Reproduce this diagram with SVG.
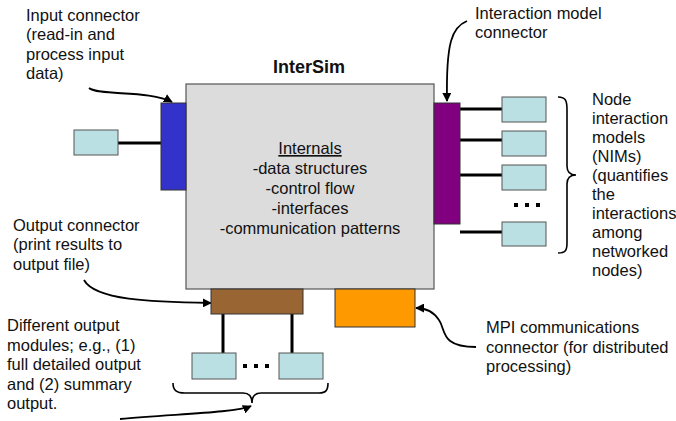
<svg xmlns="http://www.w3.org/2000/svg" width="676" height="421" viewBox="0 0 676 421">
  <style>
    text { font-family: "Liberation Sans", Arial, sans-serif; font-size: 16.5px; fill: #111; }
    .title { font-weight: bold; font-size: 18px; text-anchor: middle; }
    .mid { text-anchor: middle; }
    .module { fill: #bbe0e3; stroke: #555; stroke-width: 1; }
    .link { stroke: #000; stroke-width: 3; fill: none; }
    .callout { stroke: #000; stroke-width: 1.8; fill: none; }
    .brace { stroke: #000; stroke-width: 1.6; fill: none; }
  </style>
  <defs>
    <marker id="head" viewBox="0 0 10 10" refX="9" refY="5" markerWidth="5" markerHeight="5" orient="auto">
      <path d="M0,0 L10,5 L0,10 z" fill="#000"/>
    </marker>
  </defs>
  <rect width="676" height="421" fill="#fff"/>

  <!-- connectors -->
  <g id="connectors">
    <line class="link" x1="118" y1="143" x2="161" y2="143"/>
    <line class="link" x1="460" y1="109" x2="502" y2="109"/>
    <line class="link" x1="460" y1="140" x2="502" y2="140"/>
    <line class="link" x1="460" y1="175" x2="502" y2="175"/>
    <line class="link" x1="460" y1="232" x2="502" y2="232"/>
    <line class="link" x1="223" y1="314" x2="223" y2="353"/>
    <line class="link" x1="292" y1="314" x2="292" y2="353"/>
    <!-- callout arrows -->
    <path class="callout" d="M89,88 C98,96 150,90 172,102" marker-end="url(#head)"/>
    <path class="callout" d="M467,21 C452,27 446,42 447,101" marker-end="url(#head)"/>
    <path class="callout" d="M84,280 C95,300 150,302 211,303" marker-end="url(#head)"/>
    <path class="callout" d="M120,419 C170,414 235,413 251,406" marker-end="url(#head)"/>
    <path class="callout" d="M476,347 C440,347 446,330 439,320 C433,311 425,308 416,308" marker-end="url(#head)"/>
    <!-- braces -->
    <path class="brace" d="M558,97 C566,97 567,101 567,110 L567,166 C567,172 570,175 576,175 C570,175 567,178 567,184 L567,243 C567,251 565,253 558,253"/>
    <path class="brace" d="M173,383 C173,390 176,393 185,393 L243,393 C249,393 252,397 252,403 C252,397 255,393 261,393 L319,393 C326,393 328,390 328,383"/>
  </g>

  <!-- main simulator block -->
  <g id="intersim">
    <text class="title" x="309" y="73">InterSim</text>
    <rect x="186" y="84" width="248" height="205" fill="#dcdcdc" stroke="#555" stroke-width="1.2"/>
    <text class="mid" x="310" y="154" text-decoration="underline">Internals</text>
    <text class="mid" x="310" y="174">-data structures</text>
    <text class="mid" x="310" y="194">-control flow</text>
    <text class="mid" x="310" y="214">-interfaces</text>
    <text class="mid" x="310" y="234">-communication patterns</text>
  </g>

  <g id="input-connector">
    <rect x="161" y="103" width="25" height="87" fill="#3333cc" stroke="#333" stroke-width="1"/>
  </g>
  <g id="input-module">
    <rect class="module" x="74" y="130" width="44" height="25"/>
  </g>

  <g id="interaction-connector">
    <rect x="434" y="103" width="26" height="121" fill="#800080" stroke="#333" stroke-width="1"/>
  </g>
  <g id="nim-modules">
    <rect class="module" x="502" y="97" width="44" height="25"/>
    <rect class="module" x="502" y="131" width="44" height="25"/>
    <rect class="module" x="502" y="165" width="44" height="25"/>
    <rect x="514" y="203" width="4" height="4" fill="#000"/>
    <rect x="525" y="203" width="4" height="4" fill="#000"/>
    <rect x="536" y="203" width="4" height="4" fill="#000"/>
    <rect class="module" x="502" y="222" width="44" height="24"/>
  </g>

  <g id="output-connector">
    <rect x="211" y="289" width="92" height="25" fill="#996633" stroke="#333" stroke-width="1"/>
  </g>
  <g id="mpi-connector">
    <rect x="335" y="289" width="80" height="38" fill="#ff9900" stroke="#333" stroke-width="1"/>
  </g>
  <g id="output-modules">
    <rect class="module" x="192" y="353" width="44" height="26"/>
    <rect x="243" y="364" width="4" height="4" fill="#000"/>
    <rect x="254" y="364" width="4" height="4" fill="#000"/>
    <rect x="265" y="364" width="4" height="4" fill="#000"/>
    <rect class="module" x="279" y="353" width="44" height="26"/>
  </g>

  <!-- labels -->
  <g id="label-input">
    <text x="26" y="21">Input connector</text>
    <text x="26" y="40">(read-in and</text>
    <text x="26" y="59.5">process input</text>
    <text x="26" y="79">data)</text>
  </g>
  <g id="label-interaction">
    <text x="475" y="19">Interaction model</text>
    <text x="475" y="38">connector</text>
  </g>
  <g id="label-nims">
    <text x="592" y="105">Node</text>
    <text x="592" y="124">interaction</text>
    <text x="592" y="143">models</text>
    <text x="592" y="162">(NIMs)</text>
    <text x="592" y="181">(quantifies</text>
    <text x="592" y="200">the</text>
    <text x="592" y="219">interactions</text>
    <text x="592" y="238">among</text>
    <text x="592" y="257">networked</text>
    <text x="592" y="276">nodes)</text>
  </g>
  <g id="label-output">
    <text x="13" y="231">Output connector</text>
    <text x="13" y="250">(print results to</text>
    <text x="13" y="270">output file)</text>
  </g>
  <g id="label-modules">
    <text x="7" y="331">Different output</text>
    <text x="7" y="351">modules; e.g., (1)</text>
    <text x="7" y="370">full detailed output</text>
    <text x="7" y="390">and (2) summary</text>
    <text x="7" y="409">output.</text>
  </g>
  <g id="label-mpi">
    <text x="486" y="333">MPI communications</text>
    <text x="486" y="353">connector (for distributed</text>
    <text x="486" y="372">processing)</text>
  </g>
</svg>
